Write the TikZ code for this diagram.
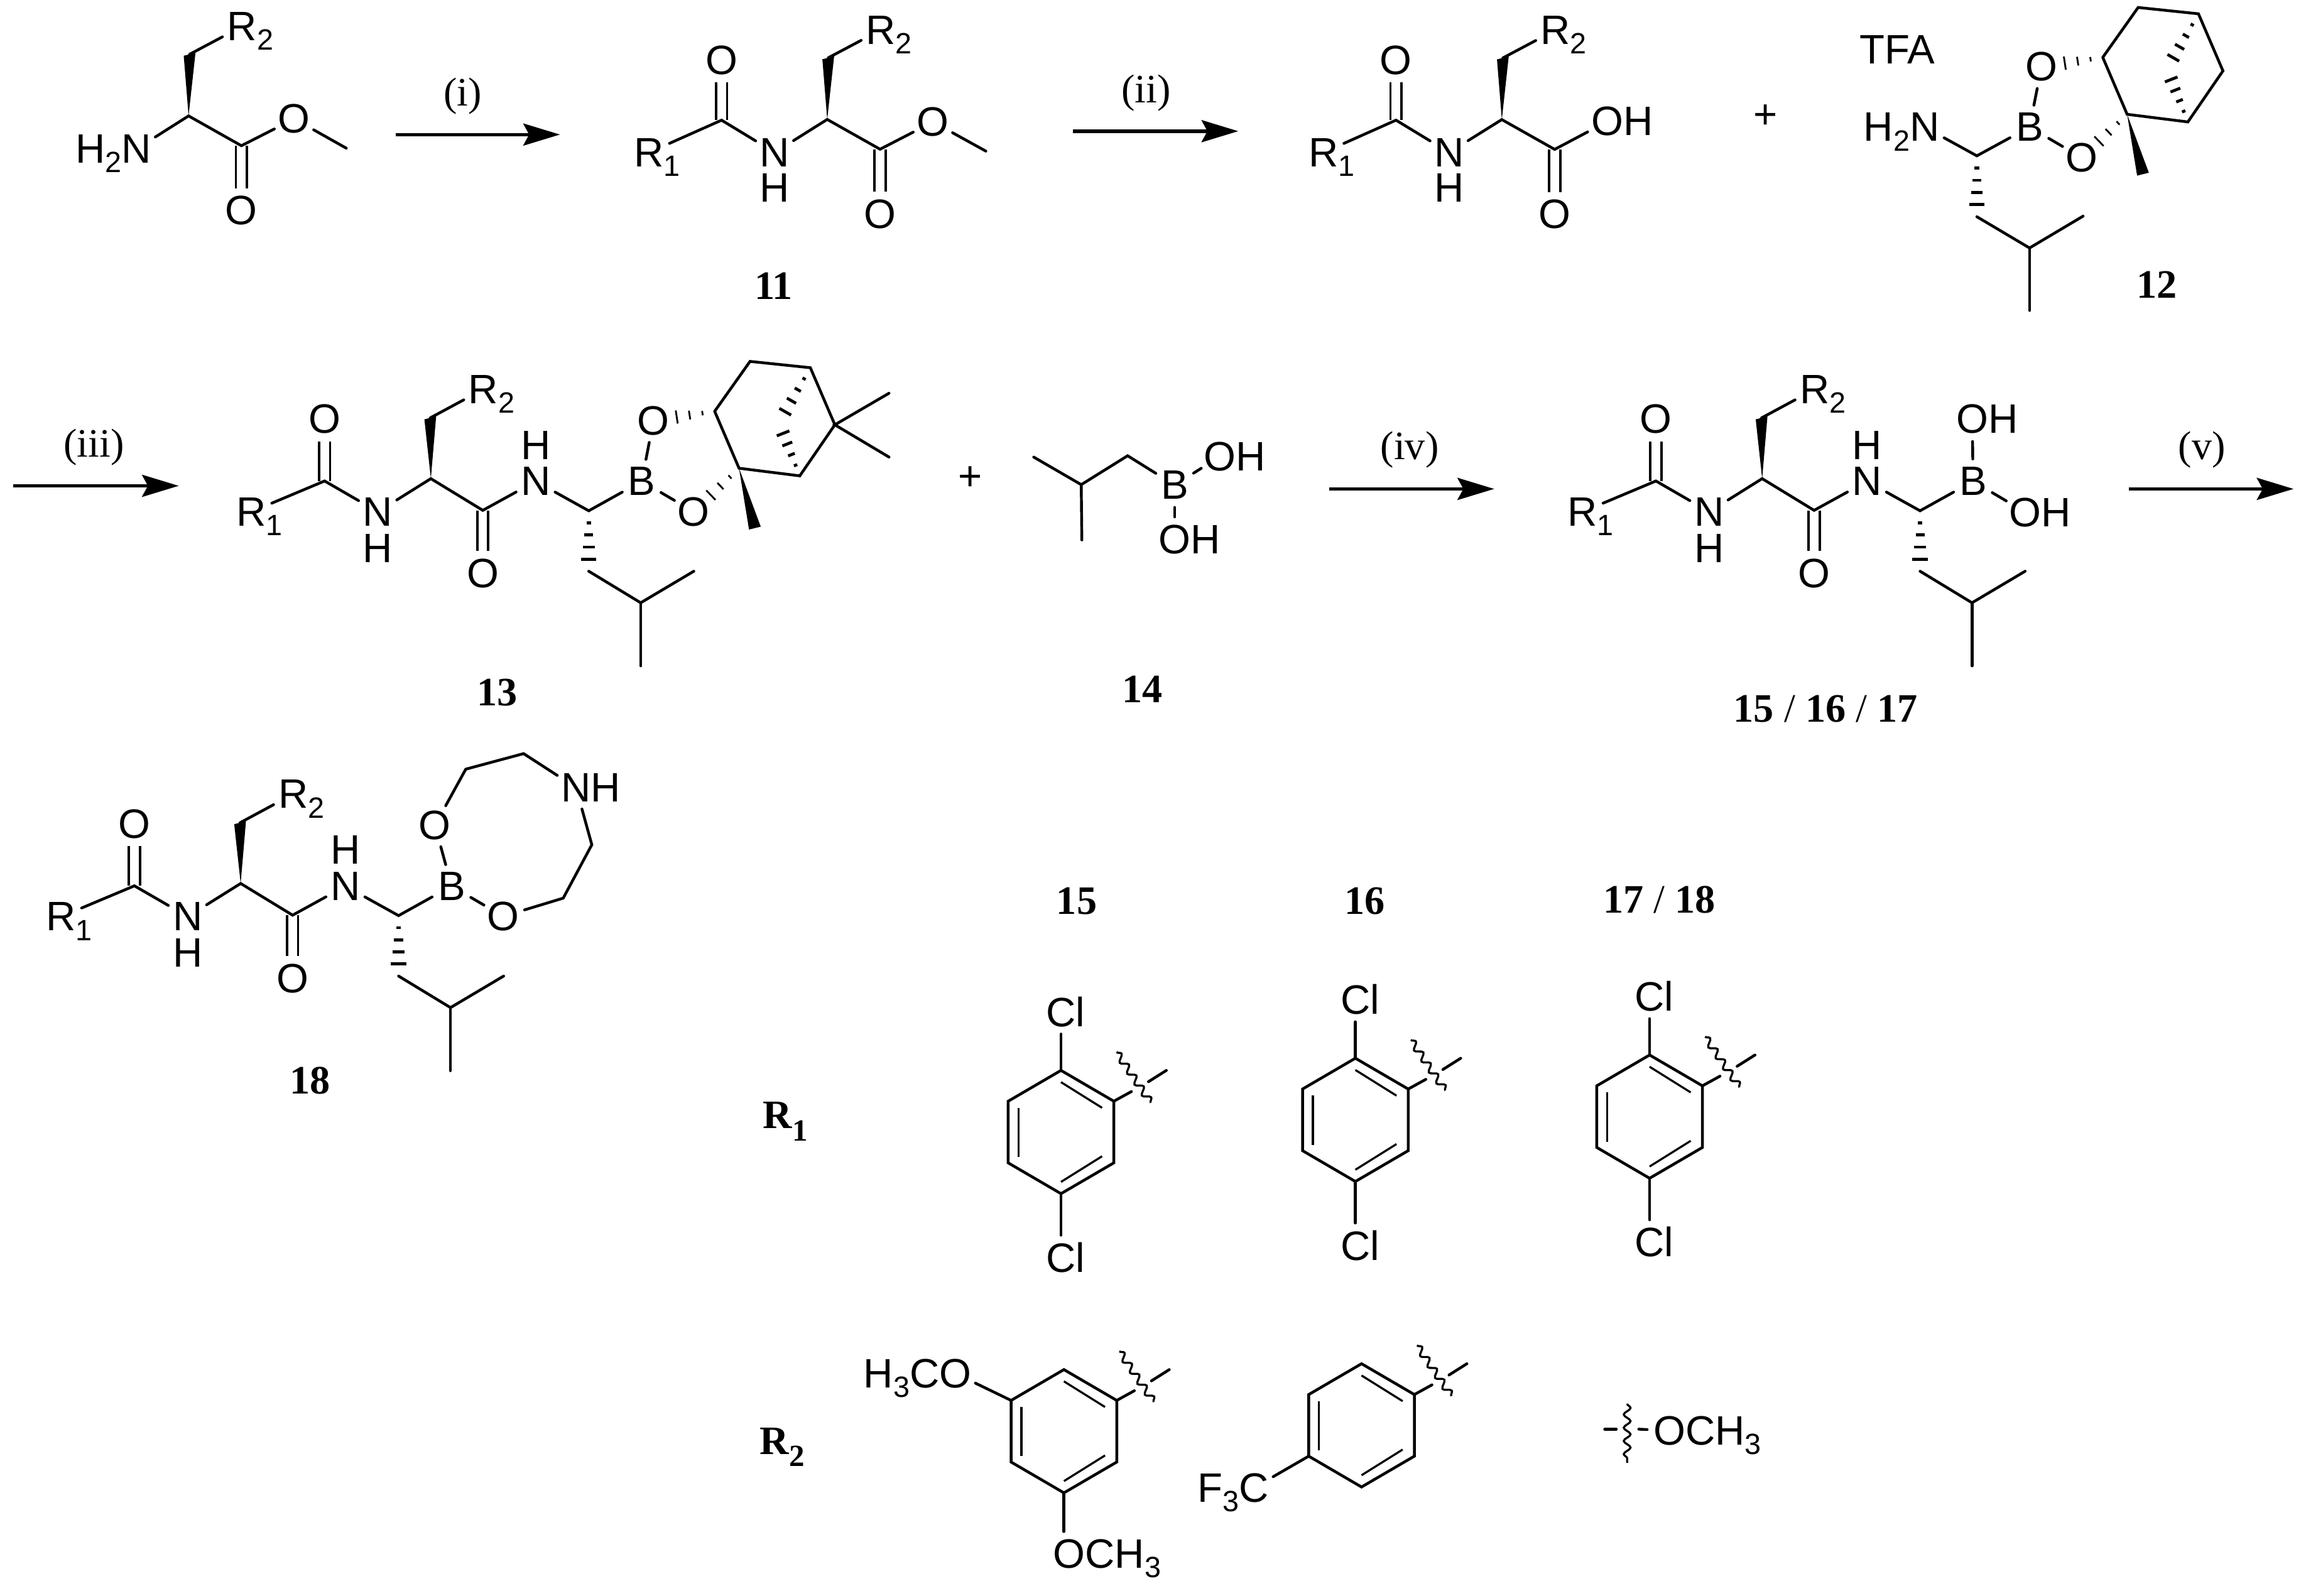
\documentclass[tikz,border=0pt]{standalone}
\usepackage{fontspec}
\usetikzlibrary{arrows.meta, calc, decorations.pathmorphing}
\newfontfamily\atomfam{Liberation Sans}
\newfontfamily\cpdfam{Liberation Serif}
\newcommand{\atomfont}{\atomfam\fontsize{28}{32}\selectfont}
\newcommand{\cpdfont}{\cpdfam\fontsize{27.5}{32}\selectfont}
\newcommand{\sbs}[1]{\smash{\raisebox{-6.5pt}{\fontsize{20}{20}\selectfont #1}}}
\newcommand{\lblsbs}[1]{\smash{\raisebox{-8.5pt}{\fontsize{21}{21}\selectfont\bfseries #1}}}
\newcommand{\hashdash}{.2/1.5,.4/3,.6/4,.8/5.2}
\newcommand{\hashbridge}{.2/1.2,.4/2.4,.6/3.6,.8/4.6}
\newcommand{\hashoxy}{.2/1.5,.41/3,.62/4.5}
\newcommand{\hashbond}[4][2pt]{\foreach \hpos/\hw in #4 {
	\draw[line width=#1] ($(#2)!\hpos!(#3)!\hw pt!90:(#3)$) -- ($(#2)!\hpos!(#3)!\hw pt!-90:(#3)$);}}
\newcommand{\wedgebond}[2]{\fill (#1) -- ([xshift=-4pt,yshift=-1pt]#2) -- ([xshift=4pt,yshift=1pt]#2) -- cycle;}
\tikzset{
	atom/.style={circle, minimum size=30pt, inner sep=0pt, font=\atomfont},
	plainatom/.style={inner sep=0pt, font=\atomfont},
	cpdlbl/.style={inner sep=0pt, font=\cpdfont},
	steplbl/.style={inner sep=0pt, font=\cpdfont},
	bond/.style={line width=1.9pt, line cap=round},
	dblbond/.style={line width=1.6pt, double, double distance=5.9pt},
	innerbond/.style={line width=1.4pt},
	wavy/.style={line width=1.4pt, decorate, decoration={snake, amplitude=2.3pt, segment length=9pt}},
	rxnarrow/.style={line width=2.3pt, -{Stealth[length=25pt, width=15pt, inset=4pt]}},
	sidechain/.pic={
		\coordinate (alpha) at (0,0);
		\coordinate (beta) at (0.7,-42);
		\coordinate (c2) at (36,20.3);
		\node[atom] (r2) at (36.5,-61) {R\rlap{\sbs{2}}};
		\node[atom] (o2) at (36,64.5) {O};
		\draw[dblbond] (c2) -- (o2);
		\wedgebond{alpha}{beta}
		\draw[bond] (beta) -- (r2);
		\draw[bond] (alpha) -- (c2);
	},
	acyl/.pic={
		\coordinate (c1) at (0,0);
		\node[atom] (r1) at (-49.4,22) {R\rlap{\sbs{1}}};
		\node[atom] (o1) at (0,-41) {O};
		\node[atom] (n1) at (36.2,22) {N};
		\node[plainatom] (h1) at (36.2,46.3) {H};
		\draw[dblbond] (c1) -- (o1);
		\draw[bond] (r1) -- (c1) -- (n1);
	},
	peptide/.pic={
		\coordinate (c1) at (0,0);
		\coordinate (alpha) at (72.4,-1.6);
		\coordinate (beta) at (72,-43);
		\coordinate (c2) at (107.8,20);
		\coordinate (alphab) at (180,20.3);
		\coordinate (cn) at (180,61.5);
		\coordinate (ch) at (215.4,83);
		\coordinate (mea) at (251.6,61.5);
		\coordinate (meb) at (215.4,126);
		\node[atom] (r1) at (-50,21) {R\rlap{\sbs{1}}};
		\node[atom] (o1) at (0,-42.1) {O};
		\node[atom] (n1) at (36.3,21) {N};
		\node[plainatom] (h1) at (36.3,45.7) {H};
		\node[atom] (r2) at (108.2,-62.5) {R\rlap{\sbs{2}}};
		\node[atom] (o2) at (107.8,63) {O};
		\node[atom] (n2) at (143.8,0.2) {N};
		\node[plainatom] (h2) at (143.8,-24.4) {H};
		\node[atom] (b) at (216.1,0.2) {B};
		\draw[dblbond] (c1) -- (o1);
		\draw[dblbond] (c2) -- (o2);
		\wedgebond{alpha}{beta}
		\hashbond{alphab}{cn}{\hashdash}
		\draw[bond] (r1) -- (c1) -- (n1) -- (alpha) -- (c2) -- (n2) -- (alphab) -- (b);
		\draw[bond] (beta) -- (r2);
		\draw[bond] (cn) -- (ch) -- (mea);
		\draw[bond] (ch) -- (meb);
	},
	pinane/.pic={
		\coordinate (ca) at (0,0);
		\coordinate (top) at (24.1,-34);
		\coordinate (topb) at (65.2,-29.7);
		\coordinate (right) at (81.9,9.2);
		\coordinate (low) at (58,44);
		\coordinate (cb) at (16.6,38.8);
		\coordinate (bridge) at (43.8,7.8);
		\coordinate (mewedge) at (27.4,79.6);
		\node[atom] (ot) at (-41.7,6.3) {O};
		\node[atom] (ol) at (-14.3,68.4) {O};
		\draw[bond] (ca) -- (top) -- (topb) -- (right) -- (low) -- (cb) -- (ca);
		\hashbond{topb}{bridge}{\hashbridge}
		\hashbond{low}{bridge}{\hashbridge}
		\hashbond[1.2pt]{ca}{ot}{\hashoxy}
		\hashbond[1.2pt]{cb}{ol}{\hashoxy}
		\wedgebond{cb}{mewedge}
	},
	arylring/.pic={
		\coordinate (a) at (0,-42);
		\coordinate (b) at (36,-21);
		\coordinate (c) at (36,21);
		\coordinate (d) at (0,42);
		\coordinate (e) at (-36,21);
		\coordinate (f) at (-36,-21);
		\coordinate (ba) at (48,-27.6);
		\coordinate (bb) at (59.6,-34.3);
		\coordinate (bc) at (71.8,-42);
		\draw[bond] (a) -- (b) -- (c) -- (d) -- (e) -- (f) -- cycle;
		\draw[innerbond] (0,-34) -- (28,-16.5);
		\draw[innerbond] (-29,-16.5) -- (-29,17);
		\draw[innerbond] (28,16.5) -- (0,34);
		\draw[bond] (b) -- (ba);
		\draw[bond] (bb) -- (bc);
		\draw[wavy] (37.8,-54.5) -- (61.2,-20);
	},
}
\begin{document}
\begin{tikzpicture}[x=1pt, y=-1pt]
	\useasboundingbox (0,0) rectangle (1568,1087.3);

	\pic (s1) at (128.5,79) {sidechain};
	\node[atom] (n1) at (93,101.5) {\llap{H\sbs{2}}N};
	\node[atom] (o1) at (200.5,81) {O};
	\coordinate (me1) at (236,101);
	\draw[bond] (n1) -- (s1alpha);
	\draw[bond] (s1c2) -- (o1) -- (me1);

	\coordinate (a1s) at (269.8,91.7);
	\coordinate (a1e) at (381.6,91.7);
	\draw[rxnarrow] (a1s) -- (a1e);
	\node[steplbl] (step1) at (315.2,65.3) {(i)};

	\pic (ac11) at (491.7,81.9) {acyl};
	\pic (s11) at (563.7,81.4) {sidechain};
	\node[atom] (o11) at (635.8,83.1) {O};
	\coordinate (me11) at (671.8,103);
	\draw[bond] (ac11n1) -- (s11alpha);
	\draw[bond] (s11c2) -- (o11) -- (me11);
	\node[cpdlbl] (cpd11) at (527.2,195) {\textbf{11}};

	\coordinate (a2s) at (731.1,89.4);
	\coordinate (a2e) at (843.8,89.4);
	\draw[rxnarrow] (a2s) -- (a2e);
	\node[steplbl] (step2) at (781,63.2) {(ii)};

	\pic (ac3) at (951.3,81.9) {acyl};
	\pic (s3) at (1023.4,81.5) {sidechain};
	\node[atom] (oh3) at (1095.3,82.8) {O\rlap{H}};
	\draw[bond] (ac3n1) -- (s3alpha);
	\draw[bond] (s3c2) -- (oh3);

	\node[plainatom] (plus1) at (1203,79.5) {+};
	\node[plainatom] (tfa) at (1293,33.7) {TFA};

	\node[atom] (n12) at (1311.5,86.6) {\llap{H\sbs{2}}N};
	\node[atom] (b12) at (1383,86.6) {B};
	\coordinate (ca12) at (1347.1,106.2);
	\coordinate (cn12) at (1347.1,147.7);
	\coordinate (ch12) at (1383,169);
	\coordinate (mea12) at (1419.5,147.3);
	\coordinate (meb12) at (1383,211.6);
	\draw[bond] (n12) -- (ca12) -- (b12);
	\hashbond{ca12}{cn12}{\hashdash}
	\draw[bond] (cn12) -- (ch12) -- (mea12);
	\draw[bond] (ch12) -- (meb12);
	\pic (pin12) at (1432.9,39.1) {pinane};
	\draw[bond] (b12) -- (pin12ot);
	\draw[bond] (b12) -- (pin12ol);
	\node[cpdlbl] (cpd12) at (1469.7,194) {\textbf{12}};

	\coordinate (a3s) at (8.9,331.1);
	\coordinate (a3e) at (121.8,331.1);
	\draw[rxnarrow] (a3s) -- (a3e);
	\node[steplbl] (step3) at (63.9,304.9) {(iii)};

	\pic (p13) at (221.2,327.8) {peptide};
	\pic (pin13) at (487,280.3) {pinane};
	\coordinate (mea13) at (605.8,268);
	\coordinate (meb13) at (605.8,311.5);
	\draw[bond] (p13b) -- (pin13ot);
	\draw[bond] (p13b) -- (pin13ol);
	\draw[bond] (mea13) -- (pin13right) -- (meb13);
	\node[cpdlbl] (cpd13) at (339,472) {\textbf{13}};

	\node[plainatom] (plus2) at (661.2,326.2) {+};
	\coordinate (mea14) at (704.4,311.5);
	\coordinate (ch14) at (736.8,330.3);
	\coordinate (meb14) at (737.2,368);
	\coordinate (cn14) at (768.4,310.6);
	\node[atom] (b14) at (800.5,330.6) {B};
	\node[atom] (oha14) at (831.4,311) {O\rlap{H}};
	\node[atom] (ohb14) at (800.5,367.5) {O\rlap{H}};
	\draw[bond] (mea14) -- (ch14) -- (cn14) -- (b14) -- (oha14);
	\draw[bond] (ch14) -- (meb14);
	\draw[bond] (b14) -- (ohb14);
	\node[cpdlbl] (cpd14) at (778.6,469.5) {\textbf{14}};

	\coordinate (a4s) at (905.6,333.2);
	\coordinate (a4e) at (1018.2,333.2);
	\draw[rxnarrow] (a4s) -- (a4e);
	\node[steplbl] (step4) at (960.6,306.5) {(iv)};

	\pic (p15) at (1128.4,327.8) {peptide};
	\node[atom] (oha15) at (1344,285.7) {O\rlap{H}};
	\node[atom] (ohb15) at (1380.2,349.1) {O\rlap{H}};
	\draw[bond] (oha15) -- (p15b) -- (ohb15);
	\node[cpdlbl] (cpd15) at (1244,483) {\textbf{15}~/~\textbf{16}~/~\textbf{17}};

	\coordinate (a5s) at (1450.9,333.2);
	\coordinate (a5e) at (1562.9,333.2);
	\draw[rxnarrow] (a5s) -- (a5e);
	\node[steplbl] (step5) at (1500.5,306.5) {(v)};

	\pic (p18) at (91.6,603.7) {peptide};
	\node[atom] (oa18) at (296.4,562.4) {O};
	\node[atom] (ob18) at (342.9,624.5) {O};
	\node[atom] (nh18) at (392.5,536.7) {N\rlap{H}};
	\coordinate (ra18) at (317.4,524.2);
	\coordinate (rb18) at (356.8,513.6);
	\coordinate (rc18) at (403.3,575.7);
	\coordinate (rd18) at (383.8,612.1);
	\draw[bond] (p18b) -- (oa18) -- (ra18) -- (rb18) -- (nh18) -- (rc18) -- (rd18) -- (ob18) -- (p18b);
	\node[cpdlbl] (cpd18) at (211.1,736.3) {\textbf{18}};

	\node[cpdlbl] (hd15) at (733.7,614) {\textbf{15}};
	\node[cpdlbl] (hd16) at (930,614) {\textbf{16}};
	\node[cpdlbl] (hd17) at (1130.6,613) {\textbf{17}~/~\textbf{18}};
	\node[cpdlbl, anchor=base] (lr1) at (535,769) {\textbf{R}\lblsbs{1}};
	\node[cpdlbl, anchor=base] (lr2) at (533,991) {\textbf{R}\lblsbs{2}};

	\foreach \ringname/\ringx/\ringy in {ra/723/771.5, rb/923.6/763.2, rc/1124.1/761} {
		\pic (\ringname) at (\ringx,\ringy) {arylring};
		\node[atom] (\ringname cla) at (\ringx,\ringy-82) {C\rlap{l}};
		\node[atom] (\ringname clb) at (\ringx,\ringy+85.5) {C\rlap{l}};
		\draw[bond] (\ringname a) -- (\ringname cla);
		\draw[bond] (\ringname d) -- (\ringname clb);
	}

	\pic (rd) at (725,975.4) {arylring};
	\node[atom] (oa21) at (651,936) {\llap{H\sbs{3}C}O};
	\node[atom] (ob21) at (728.6,1059) {O\rlap{CH\sbs{3}}};
	\draw[bond] (rdf) -- (oa21);
	\draw[bond] (rdd) -- (rdd |- ob21.north);

	\pic (re) at (927.8,971.4) {arylring};
	\node[atom] (cf3) at (854.4,1014) {\llap{F\sbs{3}}C};
	\draw[bond] (ree) -- (cf3);

	\node[atom] (o23) at (1137.6,975) {O\rlap{CH\sbs{3}}};
	\coordinate (da) at (1093.5,974);
	\coordinate (db) at (1101.4,974);
	\coordinate (dc) at (1116.7,974);
	\coordinate (wa) at (1108.8,956.7);
	\coordinate (wb) at (1108.8,997);
	\draw[bond] (da) -- (db);
	\draw[bond] (dc) -- (o23);
	\draw[wavy] (wa) -- (wb);
\end{tikzpicture}
\end{document}
